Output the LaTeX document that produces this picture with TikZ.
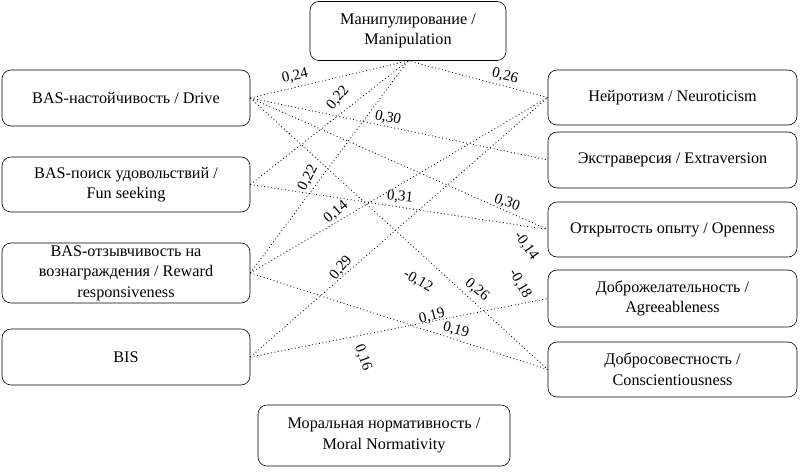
\documentclass[tikz,border=0pt]{standalone}
\usepackage{fontspec}
\setmainfont{Liberation Serif}
\begin{document}
\begin{tikzpicture}[x=1pt,y=-1pt,
  box/.style={draw, line width=0.6pt, rounded corners=9pt, align=center, inner sep=2pt,
    font=\fontsize{16.2}{20.5}\selectfont},
  lbox/.style={box, minimum width=248pt},
  rbox/.style={box, minimum width=249pt},
  link/.style={line width=0.8pt, dash pattern=on 0.9pt off 2.6pt},
  lbl/.style={font=\fontsize{15}{16}\selectfont, inner sep=0pt}]
\useasboundingbox (0,0) rectangle (802,474);
% boxes
\node[box, minimum width=196pt, minimum height=59pt] (man) at (408,31) {Манипулирование /\\Manipulation};
\node[lbox, minimum height=56pt] (drv) at (126,98) {BAS-настойчивость / Drive};
\node[lbox, minimum height=55pt] (fun) at (126,184.5) {BAS-поиск удовольствий /\\Fun seeking};
\node[lbox, minimum height=60pt] (rew) at (126,273) {BAS-отзывчивость на\\вознаграждения / Reward\\responsiveness};
\node[lbox, minimum height=56pt] (bis) at (126,357) {BIS};
\node[rbox, minimum height=55pt] (neu) at (672.5,97.5) {Нейротизм / Neuroticism};
\node[rbox, minimum height=56pt] (ext) at (672.5,160) {Экстраверсия / Extraversion};
\node[rbox, minimum height=55pt] (opn) at (672.5,229.5) {Открытость опыту / Openness};
\node[rbox, minimum height=57pt] (agr) at (672.5,298.5) {Доброжелательность /\\Agreeableness};
\node[rbox, minimum height=55pt] (con) at (672.5,369.5) {Добросовестность /\\Conscientiousness};
\node[box, minimum width=252pt, minimum height=61pt] (mor) at (384,435.5) {Моральная нормативность /\\Moral Normativity};
% connectors
\draw[link] (drv.east) -- (man.south);
\draw[link] (man.south) -- (neu.west);
\draw[link] (fun.east) -- (man.south);
\draw[link] (rew.east) -- (man.south);
\draw[link] (drv.east) -- (ext.west);
\draw[link] (fun.east) -- (opn.west);
\draw[link] (drv.east) -- (opn.west);
\draw[link] (rew.east) -- (neu.west);
\draw[link] (bis.east) -- (neu.west);
\draw[link] (drv.east) -- (con.west);
\draw[link] (bis.east) -- (agr.west);
\draw[link] (rew.east) -- (con.west);
% labels
\node[lbl, rotate=13] (l1) at (295,76) {0,24};
\node[lbl, rotate=-14] (l2) at (505,76) {0,26};
\node[lbl, rotate=50] (l3) at (338,98) {0,22};
\node[lbl, rotate=-12] (l4) at (388,118) {0,30};
\node[lbl, rotate=62] (l5) at (308,178) {0,22};
\node[lbl, rotate=-6] (l6) at (400,197) {0,31};
\node[lbl, rotate=-20] (l7) at (507,203) {0,30};
\node[lbl, rotate=40] (l8) at (336,212) {0,14};
\node[lbl, rotate=-55] (l9) at (526,246) {-0,14};
\node[lbl, rotate=50] (l10) at (341,268) {0,29};
\node[lbl, rotate=-30] (l11) at (418,281) {-0,12};
\node[lbl, rotate=-40] (l12) at (477,290) {0,26};
\node[lbl, rotate=-60] (l13) at (520,284) {-0,18};
\node[lbl, rotate=15] (l14) at (432,316) {0,19};
\node[lbl, rotate=-15] (l15) at (456,330) {0,19};
\node[lbl, rotate=-70] (l16) at (363,358) {0,16};
\end{tikzpicture}
\end{document}
